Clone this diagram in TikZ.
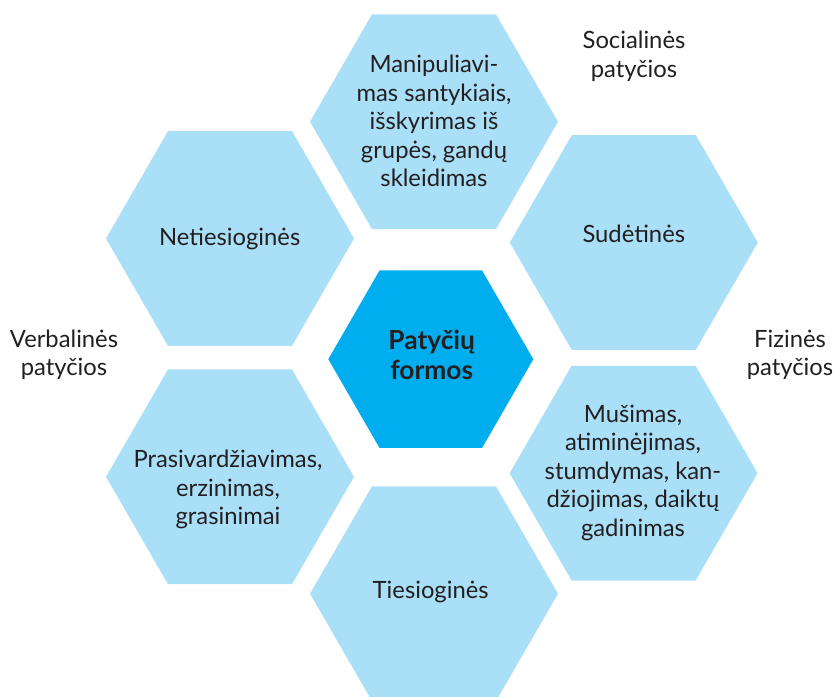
\documentclass[tikz,border=0pt]{standalone}
\usepackage{fontspec}
\setmainfont{Lato}
\usetikzlibrary{shapes.geometric}
\definecolor{hexlight}{RGB}{170,223,248}
\definecolor{hexdark}{RGB}{0,174,239}
\definecolor{txt}{RGB}{35,31,32}
\begin{document}
\begin{tikzpicture}[x=1pt,y=-1pt,
  hexbase/.style={regular polygon, regular polygon sides=6, inner sep=0pt, outer sep=0pt, draw=none},
  hexlt/.style={hexbase, fill=hexlight, minimum size=248pt},
  hexdk/.style={hexbase, fill=hexdark, minimum size=205pt},
  lbl/.style={font=\fontsize{23.8}{28.5}\selectfont, text=txt, align=center, inner sep=0pt},
  lblbold/.style={font=\fontsize{26.3}{30}\selectfont\bfseries, text=txt, align=center, inner sep=0pt}]
\useasboundingbox (0,0) rectangle (835,696);
\clip (0,0) rectangle (835,696);
% hexagons
\node[hexlt] (hTop)  at (434,121.7) {};
\node[hexlt] (hSud)  at (633.8,242.5) {};
\node[hexlt] (hMus)  at (633.6,473.2) {};
\node[hexlt] (hNet)  at (230,238.5) {};
\node[hexlt] (hPras) at (230,476.8) {};
\node[hexlt] (hTies) at (434,593.7) {};
\node[hexdk] (hCen)  at (430.8,359.2) {};
% texts in hexagons
\node[lbl] (tTop) at (434,124) {\strut Manipuliavi-\\\strut mas santykiais,\\\strut išskyrimas iš\\\strut grupės, gandų\\\strut skleidimas};
\node[lbl] (tSud) at (633.8,237) {\strut Sudėtinės};
\node[lbl] (tMus) at (633,473.5) {\strut Mušimas,\\\strut atiminėjimas,\\\strut stumdymas, kan-\\\strut džiojimas, daiktų\\\strut gadinimas};
\node[lbl] (tNet) at (229.7,239.3) {\strut Netiesioginės};
\node[lbl] (tPras) at (228,490.5) {\strut Prasivardžiavimas,\\\strut erzinimas,\\\strut grasinimai};
\node[lbl] (tTies) at (430.7,592.6) {\strut Tiesioginės};
\node[lblbold] (tCen) at (431.7,358.6) {\strut Patyčių\\\strut formos};
% outside labels
\node[lbl] (lSoc) at (634,57.3) {\strut Socialinės\\\strut patyčios};
\node[lbl] (lVerb) at (64,355.6) {\strut Verbalinės\\\strut patyčios};
\node[lbl] (lFiz) at (790,355.6) {\strut Fizinės\\\strut patyčios};
\end{tikzpicture}
\end{document}
